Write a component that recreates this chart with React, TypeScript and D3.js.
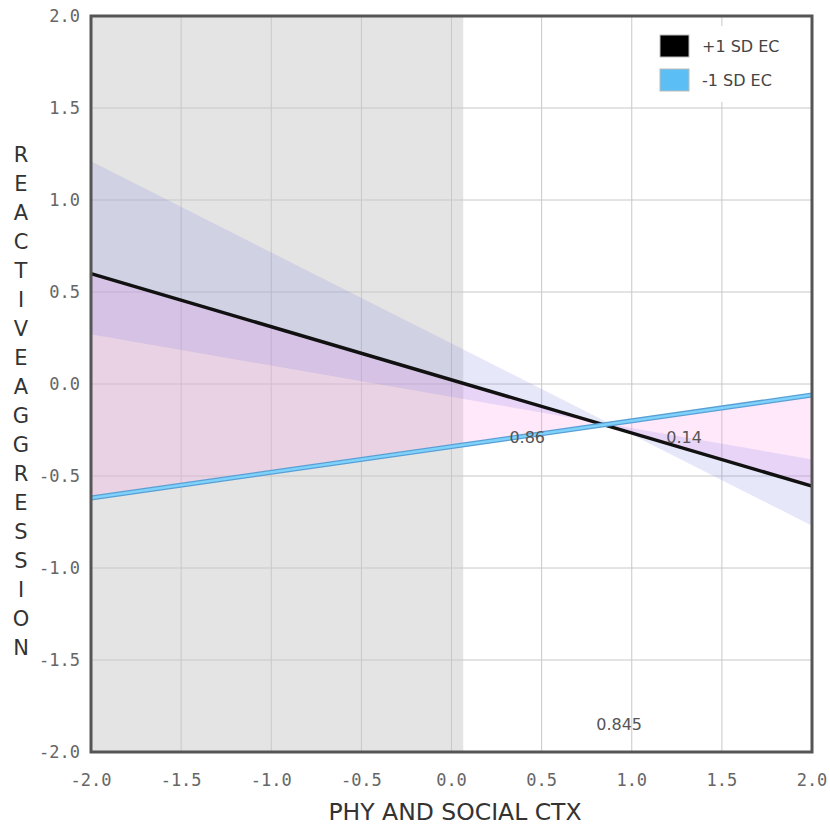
import React from 'react'
import * as d3 from 'd3'

// values
const xTicks = [-2.0, -1.5, -1.0, -0.5, 0.0, 0.5, 1.0, 1.5, 2.0]
const yTicks = [-2.0, -1.5, -1.0, -0.5, 0.0, 0.5, 1.0, 1.5, 2.0]
const lineX = [-2, 2]
const highEC = [0.6, -0.555]
const lowEC = [-0.62, -0.06]
const bandUpper = [1.21, -0.77]
const bandLower = [0.27, -0.41]
const shadeEnd = 0.065
const yLabel = 'REACTIVEAGGRESSION'
const xLabel = 'PHY AND SOCIAL CTX'
const legendItems = [
  { label: '+1 SD EC', color: '#000000' },
  { label: '-1 SD EC', color: '#5bbff5' },
]
const notes = [
  { x: 0.42, y: -0.29, text: '0.86' },
  { x: 1.29, y: -0.29, text: '0.14' },
  { x: 0.93, y: -1.85, text: '0.845' },
]

const W = 830
const H = 825
const margin = { left: 91, right: 18, top: 16, bottom: 73 }

export default function App() {
  const x = d3.scaleLinear().domain([-2, 2]).range([margin.left, W - margin.right])
  const y = d3.scaleLinear().domain([-2, 2]).range([H - margin.bottom, margin.top])

  const pts = (a: number[], b: number[]) => lineX.map((v, i) => ({ x: v, y0: a[i], y1: b[i] }))

  const area = d3
    .area<{ x: number; y0: number; y1: number }>()
    .x((d) => x(d.x))
    .y0((d) => y(d.y0))
    .y1((d) => y(d.y1))

  const line = d3
    .line<number>()
    .x((_, i) => x(lineX[i]))
    .y((d) => y(d))

  const tickFont = "'DejaVu Sans Mono', monospace"
  const font = "'DejaVu Sans', Verdana, sans-serif"

  return (
    <svg width={W} height={H} style={{ position: 'absolute', left: 0, top: 0, background: '#fff' }}>
      {/* shaded region */}
      <rect
        x={x(-2)}
        y={y(2)}
        width={x(shadeEnd) - x(-2)}
        height={y(-2) - y(2)}
        fill="#e4e4e4"
      />
      {/* grid */}
      {xTicks.map((t) => (
        <line key={'gx' + t} x1={x(t)} x2={x(t)} y1={y(2)} y2={y(-2)} stroke="#c8c8c8" strokeWidth={1} />
      ))}
      {yTicks.map((t) => (
        <line key={'gy' + t} x1={x(-2)} x2={x(2)} y1={y(t)} y2={y(t)} stroke="#c8c8c8" strokeWidth={1} />
      ))}
      {/* bands */}
      <path d={area(pts(highEC, lowEC)) || ''} fill="rgba(255,145,230,0.21)" />
      <path d={area(pts(bandUpper, bandLower)) || ''} fill="rgba(120,120,230,0.18)" />
      {/* lines */}
      <path d={line(highEC) || ''} fill="none" stroke="#111" strokeWidth={3.5} />
      <path d={line(lowEC) || ''} fill="none" stroke="#5a9fd4" strokeWidth={5} />
      <path d={line(lowEC) || ''} fill="none" stroke="#7ed2fb" strokeWidth={2.5} />
      {/* notes */}
      {notes.map((n) => (
        <text
          key={n.text}
          x={x(n.x)}
          y={y(n.y)}
          textAnchor="middle"
          dominantBaseline="central"
          fontFamily={font}
          fontSize={16}
          fill="#555"
        >
          {n.text}
        </text>
      ))}
      {/* legend */}
      <rect x={648} y={26} width={158} height={76} fill="#fff" />
      {legendItems.map((d, i) => (
        <g key={d.label} transform={`translate(660,${35 + i * 34})`}>
          <rect x={0} y={0} width={29} height={22} fill={d.color} stroke="#bbb" strokeWidth={1} />
          <text x={42} y={11} dominantBaseline="central" fontFamily={font} fontSize={16} fill="#444">
            {d.label}
          </text>
        </g>
      ))}
      {/* frame */}
      <rect
        x={x(-2)}
        y={y(2)}
        width={x(2) - x(-2)}
        height={y(-2) - y(2)}
        fill="none"
        stroke="#555"
        strokeWidth={3}
      />
      {/* tick labels */}
      {yTicks.map((t) => (
        <text
          key={'ty' + t}
          x={80}
          y={y(t)}
          textAnchor="end"
          dominantBaseline="central"
          fontFamily={tickFont}
          fontSize={17}
          fill="#666"
        >
          {t.toFixed(1)}
        </text>
      ))}
      {xTicks.map((t) => (
        <text
          key={'tx' + t}
          x={x(t)}
          y={780}
          textAnchor="middle"
          dominantBaseline="central"
          fontFamily={tickFont}
          fontSize={17}
          fill="#666"
        >
          {t.toFixed(1)}
        </text>
      ))}
      {/* axis titles */}
      <text x={455} y={812} textAnchor="middle" dominantBaseline="central" fontFamily={font} fontSize={23.5} fill="#333">
        {xLabel}
      </text>
      {yLabel.split('').map((c, i) => (
        <text
          key={'yl' + i}
          x={21}
          y={155 + i * 29}
          textAnchor="middle"
          dominantBaseline="central"
          fontFamily={font}
          fontSize={21}
          fill="#333"
        >
          {c}
        </text>
      ))}
    </svg>
  )
}
